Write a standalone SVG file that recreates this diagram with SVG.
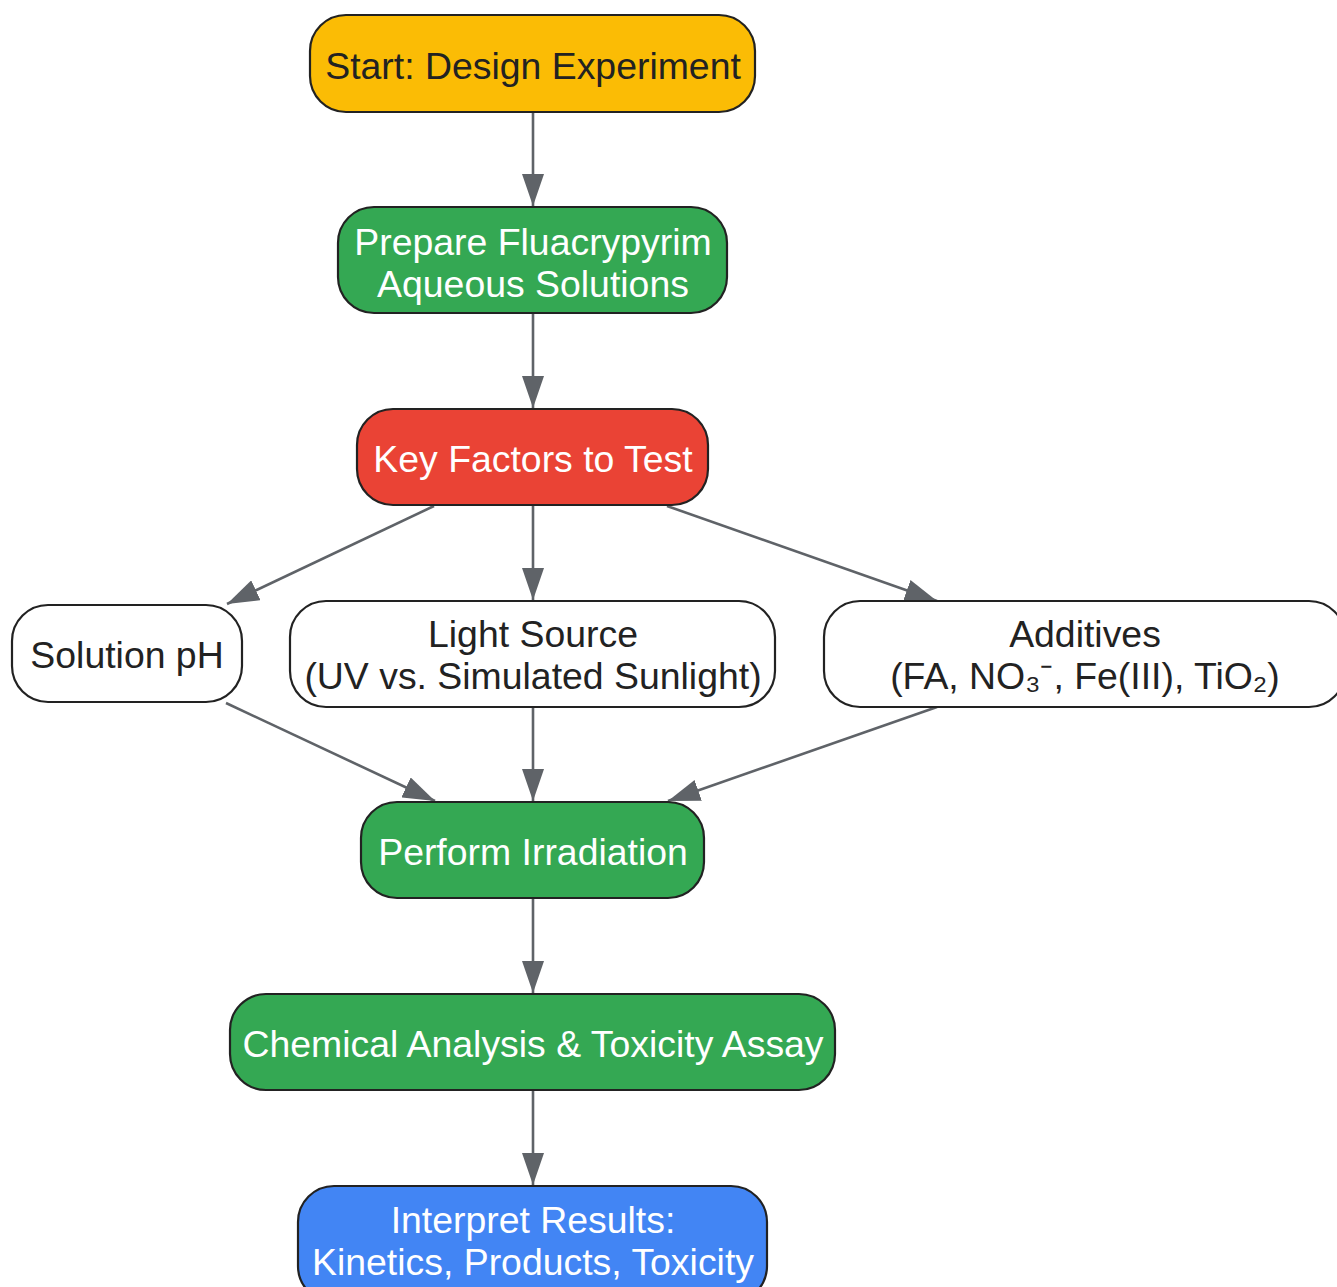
<svg xmlns="http://www.w3.org/2000/svg" width="1337" height="1287" viewBox="0 0 1337 1287">
<style>
.n{stroke:#222;stroke-width:2.2}
.t{font-family:"Liberation Sans",Arial,sans-serif;font-size:37.4px;text-anchor:middle}
.w{fill:#fff}
.d{fill:#222}
.e{fill:none;stroke:#5f6368;stroke-width:2.6;marker-end:url(#a)}
</style>
<defs>
<marker id="a" markerUnits="userSpaceOnUse" markerWidth="32" markerHeight="22" refX="32" refY="11" orient="auto">
<path d="M0,0 L32,11 L0,22 z" fill="#5f6368"/>
</marker>
</defs>
<rect width="1337" height="1287" fill="#fff"/>
<g id="connectors">
<line class="e" x1="533" y1="112" x2="533" y2="206"/>
<line class="e" x1="533" y1="313" x2="533" y2="408"/>
<line class="e" x1="434" y1="506" x2="227" y2="604"/>
<line class="e" x1="533" y1="506" x2="533" y2="600"/>
<line class="e" x1="667" y1="506" x2="937" y2="601"/>
<line class="e" x1="226" y1="703" x2="435" y2="801"/>
<line class="e" x1="533" y1="707" x2="533" y2="801"/>
<line class="e" x1="937" y1="707" x2="668" y2="801"/>
<line class="e" x1="533" y1="898" x2="533" y2="993"/>
<line class="e" x1="533" y1="1090" x2="533" y2="1185"/>
</g>
<g id="start">
<rect class="n" x="310" y="15" width="445" height="97" rx="36" fill="#FBBC05"/>
<text class="t d" x="533" y="79">Start: Design Experiment</text>
</g>
<g id="prepare">
<rect class="n" x="338" y="207" width="389" height="106" rx="36" fill="#34A853"/>
<text class="t w" x="533" y="255">Prepare Fluacrypyrim</text>
<text class="t w" x="533" y="297">Aqueous Solutions</text>
</g>
<g id="factors">
<rect class="n" x="357" y="409" width="351" height="96" rx="36" fill="#EA4335"/>
<text class="t w" x="533" y="472">Key Factors to Test</text>
</g>
<g id="ph">
<rect class="n" x="12" y="605" width="230" height="97" rx="36" fill="#fff"/>
<text class="t d" x="127" y="668">Solution pH</text>
</g>
<g id="light">
<rect class="n" x="290" y="601" width="485" height="106" rx="36" fill="#fff"/>
<text class="t d" x="533" y="647">Light Source</text>
<text class="t d" x="533" y="689">(UV vs. Simulated Sunlight)</text>
</g>
<g id="additives">
<rect class="n" x="824" y="601" width="521" height="106" rx="36" fill="#fff"/>
<text class="t d" x="1085" y="647">Additives</text>
<text class="t d" x="1085" y="689">(FA, NO₃⁻, Fe(III), TiO₂)</text>
</g>
<g id="irradiation">
<rect class="n" x="361" y="802" width="343" height="96" rx="36" fill="#34A853"/>
<text class="t w" x="533" y="865">Perform Irradiation</text>
</g>
<g id="analysis">
<rect class="n" x="230" y="994" width="605" height="96" rx="36" fill="#34A853"/>
<text class="t w" x="533" y="1057">Chemical Analysis &amp; Toxicity Assay</text>
</g>
<g id="interpret">
<rect class="n" x="298" y="1186" width="469" height="116" rx="36" fill="#4285F4"/>
<text class="t w" x="533" y="1233">Interpret Results:</text>
<text class="t w" x="533" y="1275">Kinetics, Products, Toxicity</text>
</g>
</svg>
